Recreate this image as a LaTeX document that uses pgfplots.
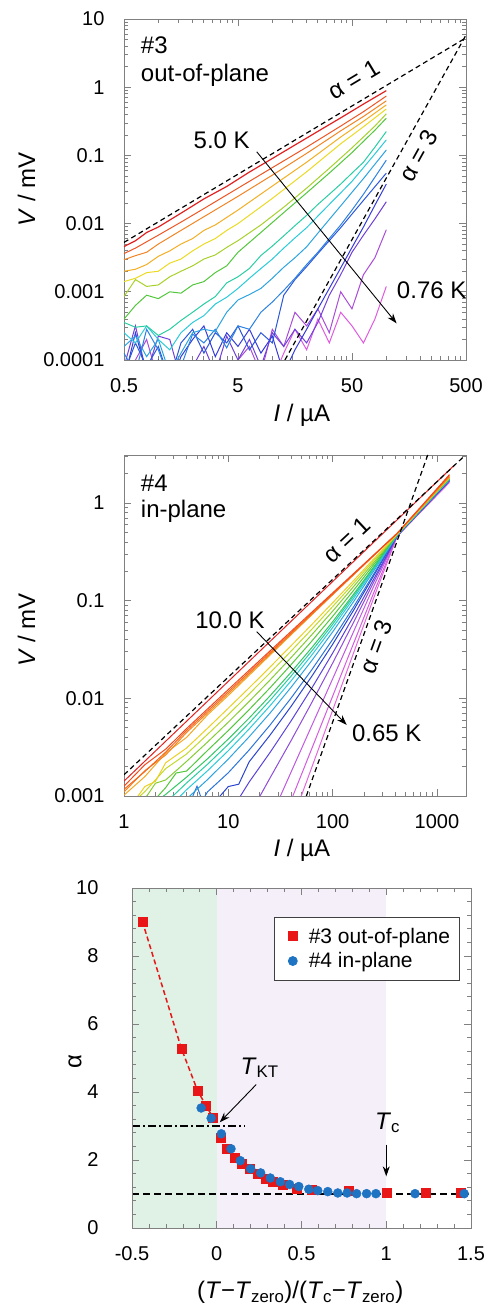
\documentclass[border=0pt]{standalone}
\usepackage{fontspec}
\setmainfont{Liberation Sans}
\usepackage{pgfplots}
\pgfplotsset{compat=1.18}
\usetikzlibrary{arrows.meta}
\definecolor{h0}{Hsb}{0,0.85,0.88}
\definecolor{h12}{Hsb}{12,0.88,0.95}
\definecolor{h15}{Hsb}{15,0.85,0.93}
\definecolor{h20}{Hsb}{20,0.88,0.96}
\definecolor{h28}{Hsb}{28,0.85,0.95}
\definecolor{h38}{Hsb}{38,0.85,0.95}
\definecolor{h40}{Hsb}{40,0.85,0.95}
\definecolor{h52}{Hsb}{52,0.85,0.92}
\definecolor{h55}{Hsb}{55,0.85,0.92}
\definecolor{h68}{Hsb}{68,0.8,0.85}
\definecolor{h75}{Hsb}{75,0.8,0.82}
\definecolor{h88}{Hsb}{88,0.75,0.8}
\definecolor{h110}{Hsb}{110,0.7,0.78}
\definecolor{h140}{Hsb}{140,0.75,0.78}
\definecolor{h165}{Hsb}{165,0.8,0.8}
\definecolor{h185}{Hsb}{185,0.8,0.85}
\definecolor{h200}{Hsb}{200,0.8,0.88}
\definecolor{h212}{Hsb}{212,0.8,0.88}
\definecolor{h215}{Hsb}{215,0.8,0.85}
\definecolor{h225}{Hsb}{225,0.8,0.85}
\definecolor{h230}{Hsb}{230,0.8,0.8}
\definecolor{h238}{Hsb}{238,0.75,0.85}
\definecolor{h250}{Hsb}{250,0.7,0.85}
\definecolor{h258}{Hsb}{258,0.7,0.85}
\definecolor{h268}{Hsb}{268,0.65,0.85}
\definecolor{h280}{Hsb}{280,0.65,0.85}
\definecolor{h285}{Hsb}{285,0.6,0.88}
\definecolor{h295}{Hsb}{295,0.6,0.88}
\definecolor{h300}{Hsb}{300,0.6,0.88}
\definecolor{h305}{Hsb}{305,0.55,0.9}
\definecolor{shgreen}{RGB}{223,242,229}
\definecolor{shlav}{RGB}{244,239,248}
\definecolor{sqred}{RGB}{232,22,22}
\definecolor{dotblue}{RGB}{30,115,195}
\newcommand{\gap}{\hspace{0.28em}}
\pgfplotsset{
  every axis/.append style={
    scale only axis,
    clip mode=individual,
    axis line style={draw=gray, line width=0.8pt},
    tick style={draw=gray, line width=0.7pt},
    major tick length=7pt, minor tick length=4pt,
    tick label style={font=\fontsize{20}{24}\selectfont},
    label style={font=\fontsize{24}{28}\selectfont},
    xticklabel style={yshift=-15pt},
    yticklabel style={xshift=-16pt},
  },
  curve/.style={line width=1pt, mark=none},
  dsh/.style={black, line width=1.2pt, dash pattern=on 5pt off 3.5pt},
}
\begin{document}
\begin{tikzpicture}
\useasboundingbox (0,0) rectangle (488pt,1304pt);
% ---------------- Panel 1 ----------------
\begin{axis}[at={(124pt,944pt)}, anchor=south west, width=342pt, height=341pt,
  xmode=log, ymode=log, xmin=0.5, xmax=500, ymin=1e-4, ymax=10,
  xtick={0.5,5,50,500}, xticklabels={0.5,5,50,500},
  minor xtick={1,1.5,2,2.5,3,3.5,4,4.5,10,15,20,25,30,35,40,45,100,150,200,250,300,350,400,450},
  ytick={1e-4,1e-3,1e-2,0.1,1,10}, yticklabels={0.0001,0.001,0.01,0.1,1,10},
  minor ytick={2e-4,3e-4,4e-4,5e-4,6e-4,7e-4,8e-4,9e-4,2e-3,3e-3,4e-3,5e-3,6e-3,7e-3,8e-3,9e-3,0.02,0.03,0.04,0.05,0.06,0.07,0.08,0.09,0.2,0.3,0.4,0.5,0.6,0.7,0.8,0.9,2,3,4,5,6,7,8,9},
  xlabel={\textit{I} / µA}, ylabel={\textit{V} / mV},
  xlabel style={at={(axis description cs:0.52,-0.161)}, anchor=center},
  ylabel style={at={(axis description cs:-0.285,0.5)}, anchor=center},
]
\addplot[curve,h300] coordinates {(7.94,3.16e-5)(10,5.01e-5)(12.6,1.26e-4)(15.8,2.82e-4)(20,1.41e-4)(25.1,3.98e-4)(31.6,1.78e-4)(39.8,5.01e-4)(50,3.16e-4)(63,1.78e-4)(79.4,3.98e-4)(100,1.20e-3)};
\addplot[curve,h280] coordinates {(3.98,5.01e-5)(5,1.0e-4)(6.3,1.58e-4)(7.94,6.31e-5)(10,2.82e-4)(12.6,1.58e-4)(15.8,5.01e-4)(20,3.16e-4)(25.1,5.62e-4)(31.6,2.51e-4)(39.8,1.0e-3)(50,5.62e-4)(63,1.78e-3)(79.4,3.16e-3)(100,8.13e-3)};
\addplot[curve,h280] coordinates {(0.5,5.01e-5)(0.63,1.0e-4)(0.79,2.0e-4)(1,5.01e-5)};
\addplot[curve,h258] coordinates {(0.5,7.94e-5)(0.63,3.16e-4)(0.79,6.31e-5)(1,2.24e-4)(1.26,2.0e-4)(1.58,5.01e-5)(2,7.94e-5)(2.51,1.58e-4)(3.16,6.31e-5)(3.98,2.24e-4)(5,1.0e-4)(6.3,2.0e-4)(7.94,7.94e-5)(10,2.51e-4)(12.6,1.58e-4)(15.8,2.82e-4)(20,1.78e-4)(25.1,3.55e-4)(31.6,8.91e-4)(39.8,1.78e-3)(50,3.80e-3)(63,6.76e-3)(79.4,1.17e-2)(100,2.09e-2)};
\addplot[curve,h238] coordinates {(0.5,5.01e-5)(0.63,2.51e-4)(0.79,6.31e-5)(1,1.0e-4)(1.26,3.98e-5)(1.58,1.12e-4)(2,2.0e-4)(2.51,3.16e-4)(3.16,1.12e-4)(3.98,2.51e-4)(5,1.58e-4)(6.3,2.82e-4)(7.94,1.26e-4)(10,2.24e-4)(12.6,6.31e-5)(15.8,1.41e-4)(20,2.82e-4)(25.1,5.62e-4)(31.6,1.12e-3)(39.8,2.24e-3)(50,4.47e-3)(63,8.91e-3)(79.4,1.86e-2)(100,3.80e-2)};
\addplot[curve,h225] coordinates {(0.5,6.31e-5)(0.63,1.78e-4)(0.79,7.94e-5)(1,1.58e-4)(1.26,5.01e-5)(1.58,1.78e-4)(2,2.82e-4)(2.51,1.26e-4)(3.16,2.51e-4)(3.98,1.78e-4)(5,3.16e-4)(6.3,1.41e-4)(7.94,2.51e-4)(10,1.78e-4)(12.6,8.91e-4)(15.8,1.51e-3)(20,2.34e-3)(25.1,3.63e-3)(31.6,5.62e-3)(39.8,8.71e-3)(50,1.38e-2)(63,2.19e-2)(79.4,3.47e-2)(100,5.50e-2)};
\addplot[curve,h212] coordinates {(0.5,1.26e-4)(0.63,6.31e-5)(0.79,2.82e-4)(1,1.41e-4)(1.26,5.01e-5)(1.58,7.94e-5)(2,2.40e-4)(2.51,1.78e-4)(3.16,2.82e-4)(3.98,1.51e-4)(5,3.16e-4)(6.3,2.82e-4)(7.94,5.01e-4)(10,7.08e-4)(12.6,1.05e-3)(15.8,1.58e-3)(20,2.51e-3)(25.1,3.80e-3)(31.6,6.03e-3)(39.8,9.55e-3)(50,1.58e-2)(63,2.69e-2)(79.4,4.79e-2)(100,8.51e-2)};
\addplot[curve,h200] coordinates {(0.5,1.58e-4)(0.63,2.24e-4)(0.79,1.12e-4)(1,2.0e-4)(1.26,6.31e-5)(1.58,1.26e-4)(2,2.51e-4)(2.51,2.82e-4)(3.16,2.63e-4)(3.98,5.01e-4)(5,7.59e-4)(6.3,9.12e-4)(7.94,1.12e-3)(10,1.58e-3)(12.6,2.29e-3)(15.8,3.16e-3)(20,4.57e-3)(25.1,7.24e-3)(31.6,1.15e-2)(39.8,1.82e-2)(50,2.88e-2)(63,4.57e-2)(79.4,7.41e-2)(100,0.120)};
\addplot[curve,h185] coordinates {(0.5,2.51e-4)(0.63,1.78e-4)(0.79,3.16e-4)(1,2.0e-4)(1.26,1.41e-4)(1.58,2.51e-4)(2,3.55e-4)(2.51,4.47e-4)(3.16,6.61e-4)(3.98,8.32e-4)(5,1.12e-3)(6.3,1.58e-3)(7.94,2.19e-3)(10,3.02e-3)(12.6,4.37e-3)(15.8,6.17e-3)(20,8.71e-3)(25.1,1.29e-2)(31.6,1.91e-2)(39.8,2.82e-2)(50,4.17e-2)(63,6.61e-2)(79.4,0.105)(100,0.169)};
\addplot[curve,h165] coordinates {(0.5,3.55e-4)(0.63,3.02e-4)(0.79,3.16e-4)(1,2.29e-4)(1.26,2.82e-4)(1.58,3.80e-4)(2,5.01e-4)(2.51,6.61e-4)(3.16,8.5e-4)(3.98,1.35e-3)(5,1.66e-3)(6.3,2.2e-3)(7.94,3.4e-3)(10,4.68e-3)(12.6,6.61e-3)(15.8,9.33e-3)(20,1.32e-2)(25.1,1.91e-2)(31.6,2.69e-2)(39.8,3.80e-2)(50,5.50e-2)(63,7.94e-2)(79.4,0.132)(100,0.224)};
\addplot[curve,h110] coordinates {(0.5,3.98e-4)(0.63,6.31e-4)(0.79,8.91e-4)(1,7.94e-4)(1.26,1.0e-3)(1.58,9.55e-4)(2,1.26e-3)(2.51,1.41e-3)(3.16,1.91e-3)(3.98,2.40e-3)(5,3.80e-3)(7.94,7.41e-3)(12.6,1.45e-2)(20,2.82e-2)(31.6,5.50e-2)(50,0.110)(79.4,0.234)(100,0.351)};
\addplot[curve,h75] coordinates {(0.5,8.51e-4)(0.63,1.51e-3)(0.79,1.20e-3)(1,1.26e-3)(1.26,1.66e-3)(1.58,2.0e-3)(2,2.40e-3)(2.51,3.02e-3)(3.16,3.47e-3)(3.98,4.47e-3)(5,5.62e-3)(7.94,9.55e-3)(12.6,1.74e-2)(20,3.31e-2)(31.6,6.46e-2)(50,0.129)(79.4,0.269)(100,0.407)};
\addplot[curve,h55] coordinates {(0.5,1.41e-3)(0.63,1.58e-3)(0.79,1.91e-3)(1,2.0e-3)(1.26,2.63e-3)(1.58,3.02e-3)(2,3.98e-3)(2.51,5.01e-3)(3.16,6.03e-3)(3.98,7.94e-3)(5,1.0e-2)(10,2.34e-2)(20,5.75e-2)(39.8,0.148)(63,0.263)(100,0.479)};
\addplot[curve,h40] coordinates {(0.5,2.0e-3)(0.63,2.14e-3)(0.79,2.51e-3)(1,3.31e-3)(1.26,3.98e-3)(1.58,5.01e-3)(2,6.03e-3)(2.51,7.94e-3)(3.16,9.55e-3)(5,1.58e-2)(10,3.55e-2)(20,7.94e-2)(39.8,0.186)(63,0.316)(100,0.550)};
\addplot[curve,h28] coordinates {(0.5,2.95e-3)(0.63,3.39e-3)(0.79,3.80e-3)(1,5.01e-3)(1.58,7.94e-3)(2.51,1.26e-2)(5,2.51e-2)(10,5.13e-2)(20,0.107)(39.8,0.229)(63,0.372)(100,0.631)};
\addplot[curve,h15] coordinates {(0.5,3.63e-3)(0.63,4.37e-3)(1,6.76e-3)(1.58,1.05e-2)(2.51,1.66e-2)(5,3.31e-2)(10,6.61e-2)(20,0.132)(39.8,0.269)(63,0.437)(100,0.741)};
\addplot[curve,h0,line width=1.2pt] coordinates {(0.5,4.6e-3)(0.63,5.6e-3)(0.79,7.4e-3)(1,8.9e-3)(1.58,1.42e-2)(2.51,2.3e-2)(3.98,3.5e-2)(6.3,5.7e-2)(10,9.0e-2)(15.8,0.142)(25.1,0.225)(39.8,0.355)(63,0.565)(100,0.89)};
\addplot[dsh] coordinates {(0.5,5.3e-3)(500,5.3)};
\addplot[dsh] coordinates {(12.9,1e-4)(500,5.82)};
\draw[-{Stealth[length=10pt,width=7pt]}, line width=0.9pt] (axis cs:7.3,0.113) -- (axis cs:123,3.45e-4);
\node[font=\fontsize{24}{28}\selectfont] at (axis cs:3.6,0.168) {5.0 K};
\node[font=\fontsize{24}{28}\selectfont] at (axis cs:250,1.06e-3) {0.76 K};
\node[font=\fontsize{24}{28}\selectfont, rotate=31] at (axis cs:52,1.28) {α\gap=\gap1};
\node[font=\fontsize{24}{28}\selectfont, rotate=61] at (axis cs:190,0.1) {α\gap=\gap3};
\node[font=\fontsize{24}{28}\selectfont, anchor=west, inner sep=0pt] at (rel axis cs:0.049,0.924) {\#3};
\node[font=\fontsize{24}{28}\selectfont, anchor=west, inner sep=0pt] at (rel axis cs:0.049,0.836) {out-of-plane};
\end{axis}
% ---------------- Panel 2 ----------------
\begin{axis}[at={(124pt,508pt)}, anchor=south west, width=342pt, height=341pt,
  xmode=log, ymode=log, xmin=1, xmax=1900, ymin=1e-3, ymax=3.1,
  xtick={1,10,100,1000}, xticklabels={1,10,100,1000},
  minor xtick={2,3,4,5,6,7,8,9,20,30,40,50,60,70,80,90,200,300,400,500,600,700,800,900},
  ytick={1e-3,1e-2,0.1,1}, yticklabels={0.001,0.01,0.1,1},
  minor ytick={2e-3,3e-3,4e-3,5e-3,6e-3,7e-3,8e-3,9e-3,0.02,0.03,0.04,0.05,0.06,0.07,0.08,0.09,0.2,0.3,0.4,0.5,0.6,0.7,0.8,0.9,2,3},
  xlabel={\textit{I} / µA}, ylabel={\textit{V} / mV},
  xlabel style={at={(axis description cs:0.52,-0.158)}, anchor=center},
  ylabel style={at={(axis description cs:-0.285,0.487)}, anchor=center},
]
\addplot[curve,h305] coordinates {(39.81,5.13e-4)(63.1,1.96e-3)(100,7.53e-3)(158.5,2.90e-2)(251.2,0.111)(416.9,0.46)(1318,1.62)};
\addplot[curve,h295] coordinates {(39.81,8.91e-4)(63.1,3.05e-3)(100,1.05e-2)(158.5,3.63e-2)(251.2,0.125)(416.9,0.46)(1318,1.66)};
\addplot[curve,h285] coordinates {(25.12,5.75e-4)(39.81,1.74e-3)(63.1,5.25e-3)(100,1.58e-2)(158.5,4.79e-2)(251.2,0.145)(416.9,0.46)(1318,1.66)};
\addplot[curve,h268] coordinates {(15.85,6.31e-4)(25.12,1.53e-3)(39.81,3.66e-3)(63.1,9.04e-3)(100,2.29e-2)(158.5,5.97e-2)(251.2,0.160)(416.9,0.46)(1318,1.70)};
\addplot[curve,h250] coordinates {(10,6.31e-4)(15.85,1.39e-3)(25.12,2.79e-3)(39.81,5.83e-3)(63.1,1.27e-2)(100,2.90e-2)(158.5,6.90e-2)(251.2,0.171)(416.9,0.46)(1318,1.70)};
\addplot[curve,h230] coordinates {(6.31,7.08e-4)(10,1.25e-3)(12.59,1.32e-3)(15.85,2.24e-3)(25.12,4.20e-3)(39.81,8.22e-3)(63.1,1.68e-2)(100,3.57e-2)(158.5,7.94e-2)(251.2,0.185)(416.9,0.47)(1318,1.70)};
\addplot[curve,h215] coordinates {(3.981,7.08e-4)(5.012,1.26e-3)(5.623,8.91e-4)(6.31,1.10e-3)(10,1.73e-3)(15.85,2.96e-3)(25.12,5.32e-3)(39.81,1.0e-2)(63.1,1.96e-2)(100,4.01e-2)(158.5,8.59e-2)(251.2,0.192)(416.9,0.47)(1318,1.74)};
\addplot[curve,h200] coordinates {(3.981,9.33e-4)(6.31,1.47e-3)(10,2.39e-3)(15.85,4.04e-3)(25.12,7.06e-3)(39.81,1.29e-2)(63.1,2.43e-2)(100,4.78e-2)(158.5,9.73e-2)(251.2,0.206)(416.9,0.47)(1318,1.74)};
\addplot[curve,h185] coordinates {(2.512,7.08e-4)(3.981,1.16e-3)(6.31,1.81e-3)(10,2.91e-3)(15.85,4.86e-3)(25.12,8.39e-3)(39.81,1.50e-2)(63.1,2.77e-2)(100,5.30e-2)(158.5,0.105)(251.2,0.214)(416.9,0.47)(1318,1.74)};
\addplot[curve,h165] coordinates {(2.512,8.51e-4)(3.981,1.36e-3)(6.31,2.11e-3)(10,3.38e-3)(15.85,5.58e-3)(25.12,9.53e-3)(39.81,1.68e-2)(63.1,3.05e-2)(100,5.71e-2)(158.5,0.111)(251.2,0.221)(416.9,0.47)(1318,1.78)};
\addplot[curve,h140] coordinates {(1.585,7.08e-4)(2.512,1.04e-3)(3.981,1.56e-3)(6.31,2.40e-3)(10,3.83e-3)(15.85,6.28e-3)(25.12,1.06e-2)(39.81,1.84e-2)(63.1,3.30e-2)(100,6.08e-2)(158.5,0.116)(251.2,0.226)(416.9,0.48)(1318,1.78)};
\addplot[curve,h110] coordinates {(1.585,7.08e-4)(2.512,1.22e-3)(3.162,1.72e-3)(3.981,1.80e-3)(6.31,2.92e-3)(10,4.68e-3)(15.85,7.66e-3)(25.12,1.28e-2)(39.81,2.20e-2)(63.1,3.85e-2)(100,6.90e-2)(158.5,0.127)(251.2,0.238)(416.9,0.48)(1318,1.78)};
\addplot[curve,h88] coordinates {(1.585,9.33e-4)(2,1.35e-3)(2.512,1.46e-3)(3.981,2.26e-3)(6.31,3.56e-3)(10,5.70e-3)(15.85,9.29e-3)(25.12,1.54e-2)(39.81,2.60e-2)(63.1,4.47e-2)(100,7.80e-2)(158.5,0.139)(251.2,0.250)(416.9,0.48)(1318,1.82)};
\addplot[curve,h68] coordinates {(1,7.08e-4)(1.585,1.11e-3)(2.512,1.91e-3)(3.981,2.69e-3)(6.31,4.27e-3)(10,6.82e-3)(15.85,1.11e-2)(25.12,1.82e-2)(39.81,3.03e-2)(63.1,5.09e-2)(100,8.69e-2)(158.5,0.150)(251.2,0.262)(416.9,0.48)(1318,1.82)};
\addplot[curve,h52] coordinates {(1,6.31e-4)(1.585,1.25e-3)(2,1.41e-3)(2.512,2.19e-3)(3.981,3.10e-3)(6.31,4.93e-3)(10,7.93e-3)(15.85,1.28e-2)(25.12,2.09e-2)(39.81,3.44e-2)(63.1,5.69e-2)(100,9.51e-2)(158.5,0.160)(251.2,0.272)(416.9,0.48)(1318,1.82)};
\addplot[curve,h38] coordinates {(1,1.02e-3)(1.585,1.58e-3)(2.512,2.75e-3)(3.981,3.98e-3)(6.31,6.76e-3)(10,1.07e-2)(100,0.115)(416.9,0.49)(1318,1.86)};
\addplot[curve,h28] coordinates {(1,1.10e-3)(1.585,1.82e-3)(2.512,2.63e-3)(3.981,4.47e-3)(10,1.12e-2)(100,0.115)(416.9,0.49)(1318,1.86)};
\addplot[curve,h20] coordinates {(1,1.17e-3)(1.585,1.78e-3)(2.512,2.82e-3)(3.981,4.68e-3)(10,1.17e-2)(100,0.117)(416.9,0.49)(1318,1.91)};
\addplot[curve,h12] coordinates {(1,1.26e-3)(1.585,2.09e-3)(2.512,3.02e-3)(3.981,4.90e-3)(10,1.23e-2)(100,0.120)(416.9,0.490)(1318,1.95)};
\addplot[curve,h0] coordinates {(1,1.42e-3)(1445,2.4)};
\addplot[dsh] coordinates {(1,1.65e-3)(1800,2.97)};
\addplot[dsh] coordinates {(56,1e-3)(820,3.14)};
\draw[-{Stealth[length=10pt,width=7pt]}, line width=0.9pt] (axis cs:18.7,0.0482) -- (axis cs:136.5,5.34e-3);
\node[font=\fontsize{24}{28}\selectfont] at (axis cs:10.4,0.0634) {10.0 K};
\node[font=\fontsize{24}{28}\selectfont] at (axis cs:330,4.39e-3) {0.65 K};
\node[font=\fontsize{24}{28}\selectfont, rotate=43] at (axis cs:138,0.42) {α\gap=\gap1};
\node[font=\fontsize{24}{28}\selectfont, rotate=70] at (axis cs:260,0.0338) {α\gap=\gap3};
\node[font=\fontsize{24}{28}\selectfont, anchor=west, inner sep=0pt] at (rel axis cs:0.049,0.917) {\#4};
\node[font=\fontsize{24}{28}\selectfont, anchor=west, inner sep=0pt] at (rel axis cs:0.049,0.834) {in-plane};
\end{axis}
% ---------------- Panel 3 ----------------
\begin{axis}[at={(132pt,76pt)}, anchor=south west, width=339pt, height=340pt,
  xmin=-0.5, xmax=1.5, ymin=0, ymax=10, axis on top,
  xtick={-0.5,0,0.5,1,1.5}, xticklabels={-0.5,0,0.5,1,1.5}, minor x tick num=4,
  ytick={0,2,4,6,8,10}, yticklabels={0,2,4,6,8,10}, minor y tick num=4,
  yticklabel style={xshift=-14pt},
  xlabel={(\textit{T}−\textit{T}\textsubscript{zero})/(\textit{T}\textsubscript{c}−\textit{T}\textsubscript{zero})},
  ylabel={α},
  xlabel style={at={(axis description cs:0.496,-0.19)}, anchor=center},
  ylabel style={at={(axis description cs:-0.168,0.489)}, anchor=center},
  legend style={at={(axis description cs:0.966,0.916)}, anchor=north east, draw=black!75, line width=0.8pt, font=\fontsize{21}{24}\selectfont, row sep=4pt, inner xsep=7pt, inner ysep=9pt},
  legend cell align=left,
  legend image code/.code={\path[draw=none,fill=none] (-11.4pt,0pt) -- (14pt,0pt); \draw[#1,draw=none] plot coordinates {(0pt,0pt)};},
]
\addplot[fill=shgreen, draw=none, forget plot] coordinates {(-0.5,0)(0,0)(0,10)(-0.5,10)} -- cycle;
\addplot[fill=shlav, draw=none, forget plot] coordinates {(0,0)(1,0)(1,10)(0,10)} -- cycle;
\addplot[black, line width=1.2pt, dash pattern=on 7pt off 4pt, forget plot] coordinates {(-0.5,1)(1.5,1)};
\addplot[black, line width=1.1pt, dash pattern=on 8pt off 3pt on 2pt off 3pt, forget plot] coordinates {(-0.5,3)(0.165,3)};
\addplot[sqred, line width=1.5pt, dash pattern=on 5pt off 3pt, forget plot] coordinates {(-0.439,9.02)(-0.208,5.27)(-0.114,4.05)(-0.065,3.61)(-0.022,3.25)};
\addplot[only marks, mark=square*, mark size=4.5pt, color=sqred] coordinates {(-0.439,9.02)(-0.208,5.27)(-0.114,4.05)(-0.065,3.61)(-0.022,3.25)(0.022,2.67)(0.061,2.32)(0.106,2.08)(0.149,1.88)(0.194,1.74)(0.239,1.60)(0.286,1.45)(0.331,1.36)(0.390,1.26)(0.473,1.16)(0.563,1.12)(0.78,1.10)(1.0,1.03)(1.23,1.03)(1.44,1.03)};
\addlegendentry{\#3 out-of-plane}
\addplot[only marks, mark=*, mark size=4.5pt, color=dotblue] coordinates {(-0.092,3.53)(-0.033,3.23)(0.027,2.77)(0.084,2.33)(0.139,1.98)(0.200,1.74)(0.259,1.62)(0.316,1.47)(0.375,1.36)(0.430,1.28)(0.484,1.22)(0.543,1.14)(0.596,1.10)(0.655,1.07)(0.714,1.03)(0.769,1.03)(0.825,1.01)(0.884,1.01)(0.939,1.01)(1.17,1.01)(1.46,1.01)};
\addlegendentry{\#4 in-plane}
\draw[-{Stealth[length=10pt,width=7pt]}, line width=0.9pt] (axis cs:0.233,4.22) -- (axis cs:0.018,3.11);
\draw[-{Stealth[length=10pt,width=7pt]}, line width=0.9pt] (axis cs:1.0,2.45) -- (axis cs:1.0,1.52);
\node[font=\fontsize{24}{28}\selectfont] at (axis cs:0.253,4.71) {\textit{T}\textsubscript{KT}};
\node[font=\fontsize{24}{28}\selectfont] at (axis cs:1.008,3.09) {\textit{T}\textsubscript{c}};
\end{axis}
\end{tikzpicture}
\end{document}
